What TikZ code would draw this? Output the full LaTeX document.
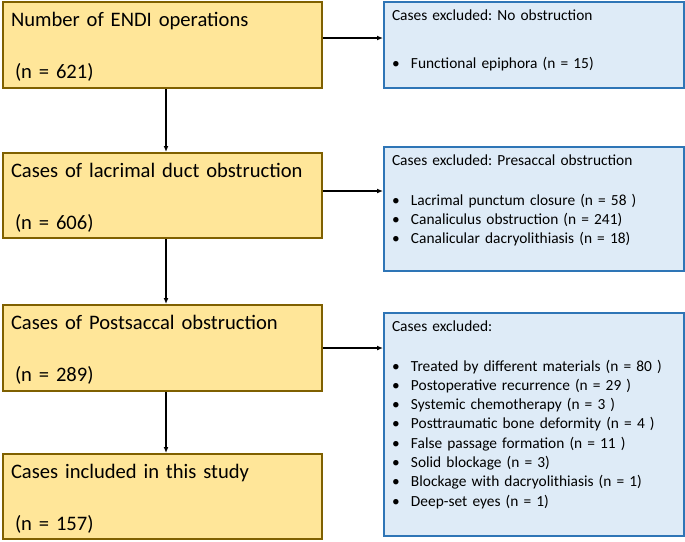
\documentclass[tikz,border=0pt]{standalone}
\usepackage{fontspec}
\setmainfont{Carlito}
\usetikzlibrary{arrows.meta, positioning, calc}
\definecolor{stageyellow}{HTML}{FFE699}
\definecolor{stageedge}{HTML}{7F6000}
\definecolor{exclblue}{HTML}{DEEBF7}
\definecolor{excledge}{HTML}{2E75B6}
\newcommand{\bitem}{\makebox[19pt][l]{\textbullet}}
\frenchspacing

\begin{document}
\begin{tikzpicture}[
  x=1pt, y=1pt,
  stagebox/.style={draw=stageedge, fill=stageyellow, line width=2pt, anchor=north west, minimum width=319pt, text width=303pt, align=left, inner sep=8pt, font=\fontsize{20.6}{25.1}\selectfont, text height=16pt},
  exclbox/.style={draw=excledge, fill=exclblue, line width=2pt, anchor=north west, minimum width=300pt, text width=284pt, align=left, inner sep=8pt, font=\fontsize{15.4}{19.3}\selectfont, text height=10pt},
  flow/.style={-{Latex[length=6pt, width=5pt]}, line width=1.4pt}
]
  \useasboundingbox (0,0) rectangle (685,-541);

  % Stages
  \node[stagebox, text depth=54pt] (ops) at (2,-1) {
    Number of ENDI operations\\[26.9pt]\hspace*{4pt}(n = 621)
  };
  \node[stagebox, text depth=53pt] (duct) at (2,-152) {
    Cases of lacrimal duct obstruction\\[26.9pt]\hspace*{4pt}(n = 606)
  };
  \node[stagebox, text depth=54pt] (post) at (2,-304) {
    Cases of Postsaccal obstruction\\[26.9pt]\hspace*{4pt}(n = 289)
  };
  \node[stagebox, text depth=53pt] (incl) at (2,-453) {
    Cases included in this study\\[26.9pt]\hspace*{4pt}(n = 157)
  };

  % Exclusions
  \node[exclbox, text depth=60pt] (noobs) at (383,-1) {
    Cases excluded: No obstruction\\[28.7pt]
    \bitem Functional epiphora (n = 15)
  };
  \node[exclbox, text depth=98pt] (presac) at (383,-146) {
    Cases excluded: Presaccal obstruction\\[20.7pt]
    \bitem Lacrimal punctum closure (n = 58 )\\
    \bitem Canaliculus obstruction (n = 241)\\
    \bitem Canalicular dacryolithiasis (n = 18)
  };
  \node[exclbox, text depth=197pt] (other) at (383,-312) {
    Cases excluded:\\[20.7pt]
    \bitem Treated by different materials (n = 80 )\\
    \bitem Postoperative recurrence (n = 29 )\\
    \bitem Systemic chemotherapy (n = 3 )\\
    \bitem Posttraumatic bone deformity (n = 4 )\\
    \bitem False passage formation (n = 11 )\\
    \bitem Solid blockage (n = 3)\\
    \bitem Blockage with dacryolithiasis (n = 1)\\
    \bitem Deep-set eyes (n = 1)
  };

  % Arrows
  \draw[flow] ([xshift=3.5pt]ops.south) -- ([xshift=3.5pt]duct.north);
  \draw[flow] ([xshift=3.5pt]duct.south) -- ([xshift=3.5pt]post.north);
  \draw[flow] ([xshift=3.5pt]post.south) -- ([xshift=3.5pt]incl.north);
  \draw[flow] ([yshift=7pt]ops.east) -- ([yshift=7pt]ops.east -| noobs.west);
  \draw[flow] ([yshift=4.5pt]duct.east) -- ([yshift=4.5pt]duct.east -| presac.west);
  \draw[flow] (post.east) -- (post.east -| other.west);
\end{tikzpicture}
\end{document}
